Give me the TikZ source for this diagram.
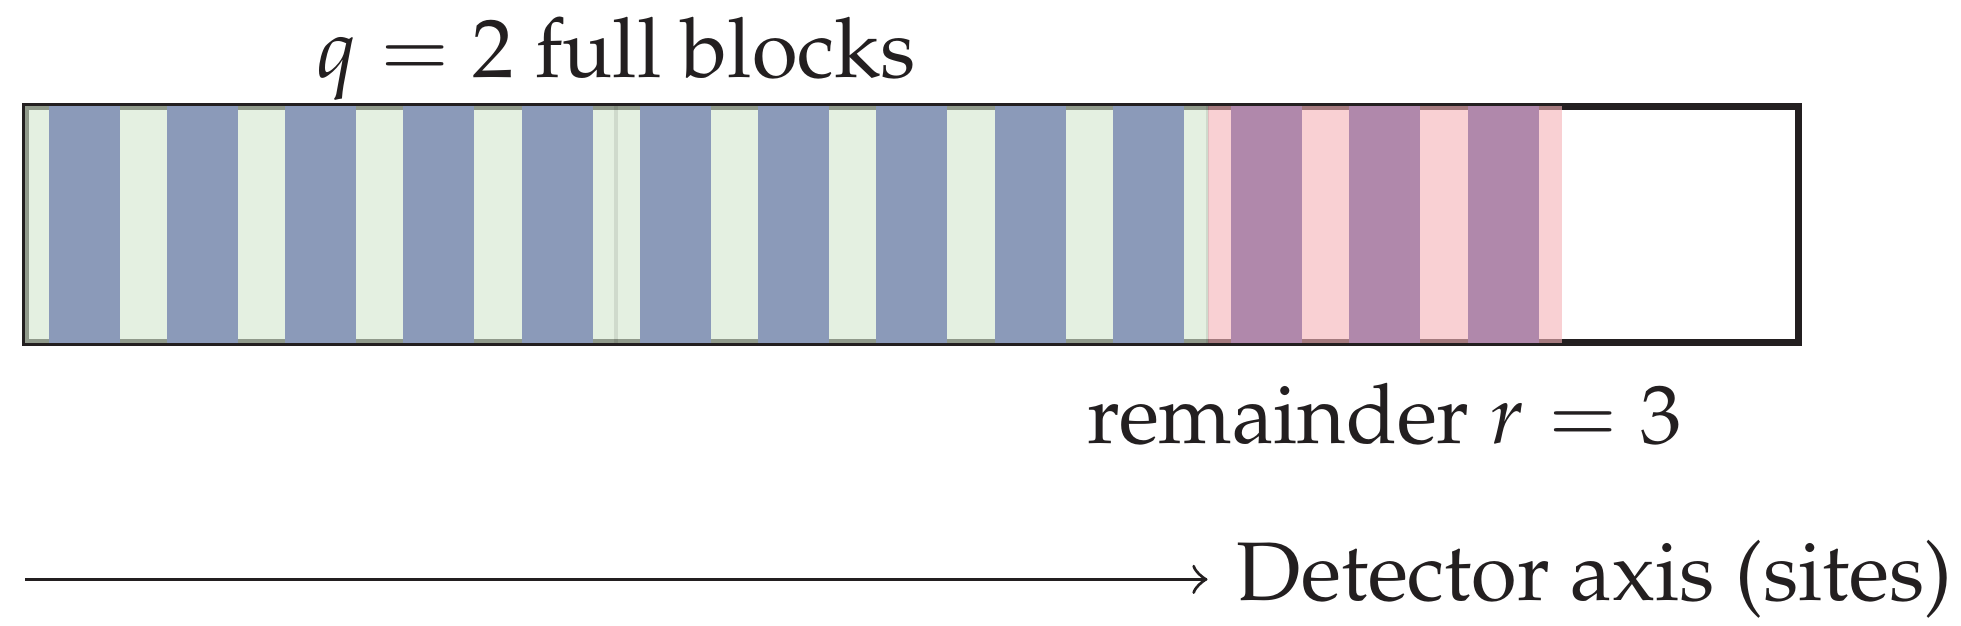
\documentclass[tikz,border=0pt]{standalone}
\usepackage[T1]{fontenc}
\usepackage{mathpazo}
\usetikzlibrary{positioning}
\definecolor{sitegreen}{RGB}{211,231,206}
\definecolor{sitepink}{RGB}{245,179,184}
\definecolor{siteblue}{RGB}{139,154,185}
\definecolor{sitepurple}{RGB}{176,136,171}
\definecolor{inkblack}{RGB}{35,31,32}

\begin{document}
\begin{tikzpicture}[
    outline/.style={draw=inkblack, line width=0.85pt},
    fullblk/.style={fill=sitegreen, opacity=0.62},
    remblk/.style={fill=sitepink, opacity=0.62},
    seam/.style={draw=black, opacity=0.09, line width=0.45pt},
    site/.style={fill=siteblue},
    remsite/.style={fill=sitepurple},
    lab/.style={inner sep=0pt, text=inkblack},
    arrow/.style={->, draw=inkblack}
  ]
  \useasboundingbox (-0.106,-1.197) rectangle (8.186,1.450);
  \draw[outline] (0,0) rectangle (7.5,1);

  % full blocks and remainder
  \foreach \b in {0,1}
    \path[fullblk] (2.5*\b,0) rectangle ++(2.5,1);
  \path[remblk] (5,0) rectangle (6.5,1);
  \foreach \x in {2.5,5}
    \draw[seam] (\x,0) -- (\x,1);
  \foreach \s in {0,...,9}
    \fill[site] (0.5*\s+0.1,0) rectangle ++(0.3,1);
  \foreach \s in {10,11,12}
    \fill[remsite] (0.5*\s+0.1,0) rectangle ++(0.3,1);

  \node[lab, anchor=base] (qlab) at (2.5,1.122) {$q=2$ full blocks};
  \node[lab, anchor=base] (rlab) at (5.75,-0.427) {remainder $r=3$};

  % axis
  \coordinate (axstart) at (0,-1);
  \node[right, text=inkblack] (axlab) at (5,-1) {Detector axis (sites)};
  \draw[arrow] (axstart) -- (axlab.west);
\end{tikzpicture}
\end{document}
